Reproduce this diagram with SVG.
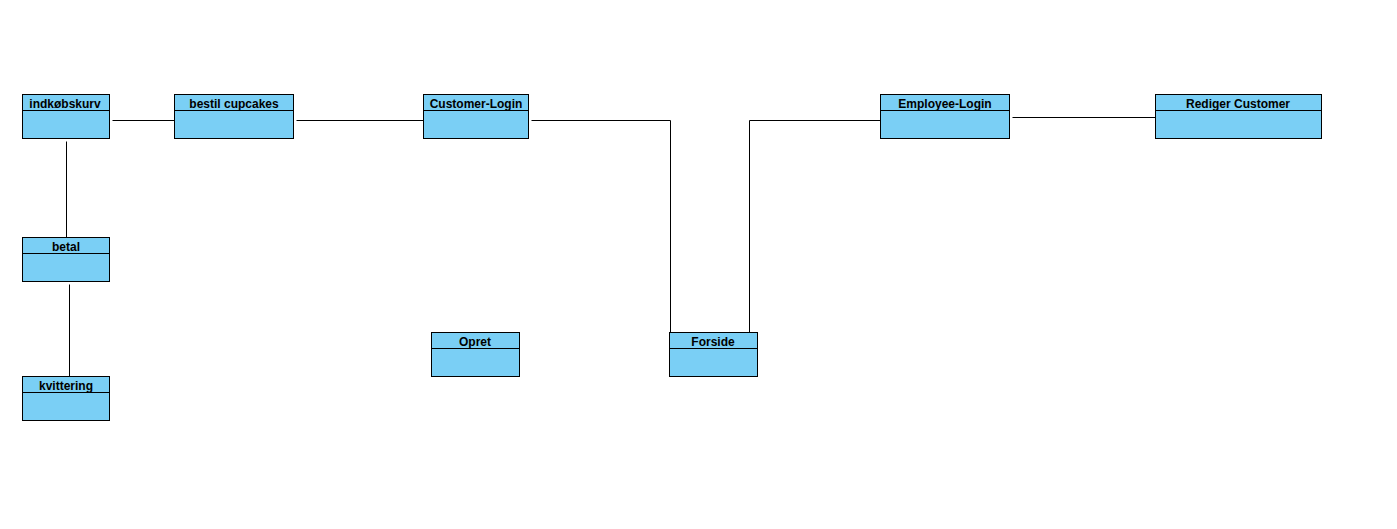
<svg xmlns="http://www.w3.org/2000/svg" width="1397" height="529" viewBox="0 0 1397 529">
<style>
.box{fill:#7acff5;stroke:#000;stroke-width:1}
.sep{stroke:#000;stroke-width:1}
.lbl{font-family:"Liberation Sans",Arial,sans-serif;font-size:12px;font-weight:bold;fill:#000;text-anchor:middle}
.conn{fill:none;stroke:#000;stroke-width:1}
</style>
<rect width="1397" height="529" fill="#fff"/>
<g id="connectors">
<path class="conn" d="M112.5 120.5H174.5"/>
<path class="conn" d="M296.5 120.5H423.5"/>
<path class="conn" d="M531.5 120.5H670.5V332.5"/>
<path class="conn" d="M749.5 332.5V120.5H880.5"/>
<path class="conn" d="M1012.5 117.5H1155.5"/>
<path class="conn" d="M66.5 141.5V237.5"/>
<path class="conn" d="M69.5 284.5V376.5"/>
</g>
<g id="indkobskurv"><rect class="box" x="22.5" y="94.5" width="87" height="44"/><line class="sep" x1="22.5" y1="110.5" x2="109.5" y2="110.5"/><text class="lbl" x="65" y="107.5">indkøbskurv</text></g>
<g id="bestil"><rect class="box" x="174.5" y="94.5" width="119" height="44"/><line class="sep" x1="174.5" y1="110.5" x2="293.5" y2="110.5"/><text class="lbl" x="234" y="107.5">bestil cupcakes</text></g>
<g id="customer-login"><rect class="box" x="423.5" y="94.5" width="105" height="44"/><line class="sep" x1="423.5" y1="110.5" x2="528.5" y2="110.5"/><text class="lbl" x="476" y="107.5">Customer-Login</text></g>
<g id="employee-login"><rect class="box" x="880.5" y="94.5" width="129" height="44"/><line class="sep" x1="880.5" y1="110.5" x2="1009.5" y2="110.5"/><text class="lbl" x="945" y="107.5">Employee-Login</text></g>
<g id="rediger"><rect class="box" x="1155.5" y="94.5" width="166" height="44"/><line class="sep" x1="1155.5" y1="110.5" x2="1321.5" y2="110.5"/><text class="lbl" x="1238" y="107.5">Rediger Customer</text></g>
<g id="betal"><rect class="box" x="22.5" y="237.5" width="87" height="44"/><line class="sep" x1="22.5" y1="253.5" x2="109.5" y2="253.5"/><text class="lbl" x="66" y="250.5">betal</text></g>
<g id="kvittering"><rect class="box" x="22.5" y="376.5" width="87" height="44"/><line class="sep" x1="22.5" y1="392.5" x2="109.5" y2="392.5"/><text class="lbl" x="66" y="389.5">kvittering</text></g>
<g id="opret"><rect class="box" x="431.5" y="332.5" width="88" height="44"/><line class="sep" x1="431.5" y1="348.5" x2="519.5" y2="348.5"/><text class="lbl" x="475" y="345.5">Opret</text></g>
<g id="forside"><rect class="box" x="669.5" y="332.5" width="88" height="44"/><line class="sep" x1="669.5" y1="348.5" x2="757.5" y2="348.5"/><text class="lbl" x="713" y="345.5">Forside</text></g>
</svg>
